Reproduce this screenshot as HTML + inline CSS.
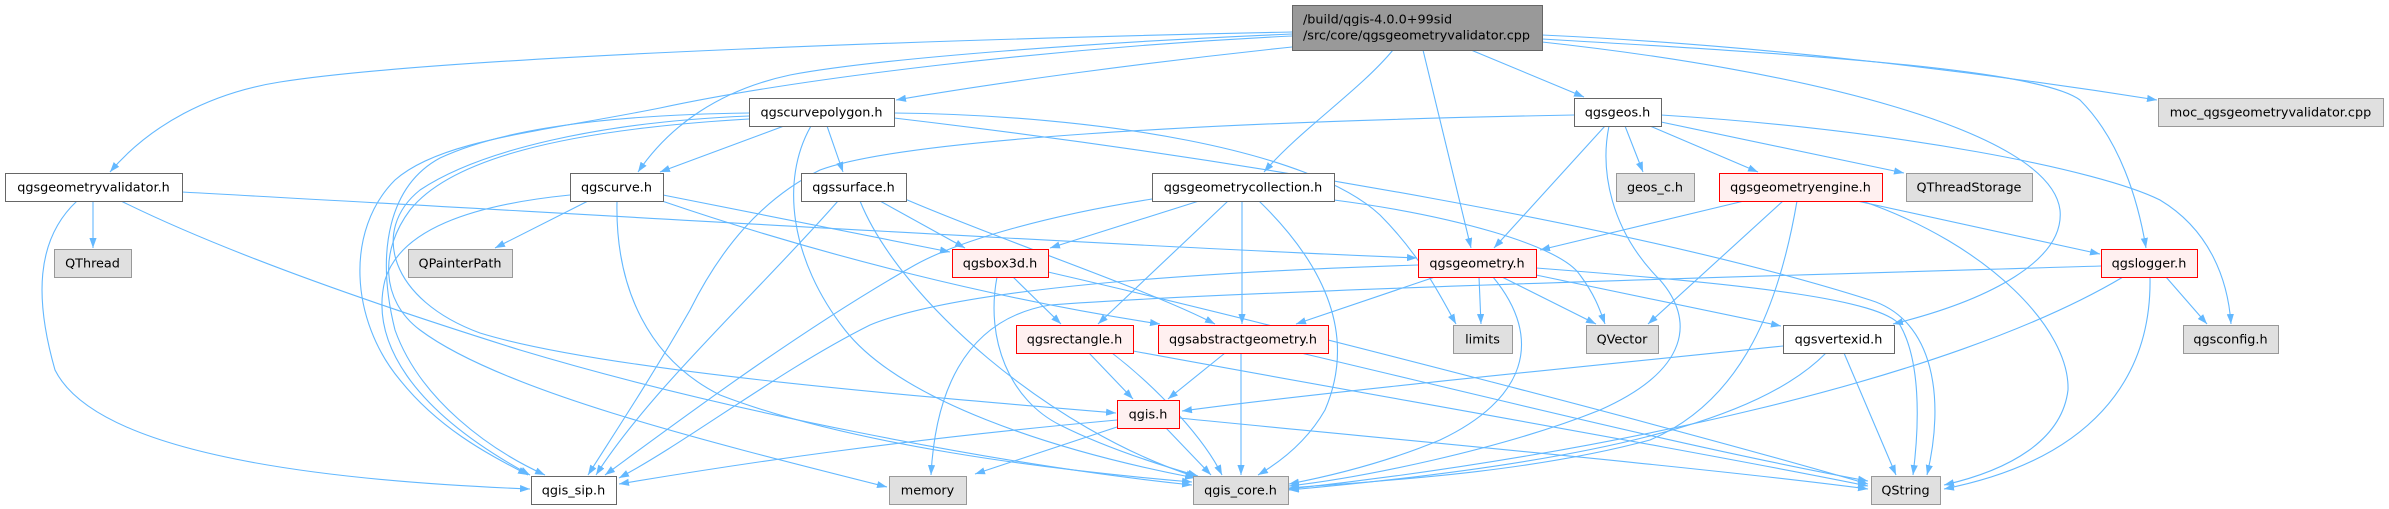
<!DOCTYPE html>
<html><head><meta charset="utf-8"><style>
html,body{margin:0;padding:0;background:#fff;}
svg{display:block;}
.e path{fill:none;stroke:#63b8ff;stroke-width:1.1;marker-end:url(#ah);}
.n text{font-family:"DejaVu Sans","Liberation Sans",sans-serif;font-size:12.8px;fill:#000;text-anchor:middle;}
.w{fill:#fff;stroke:#666;stroke-width:1;}
.g{fill:#e0e0e0;stroke:#999;stroke-width:1;}
.r{fill:#fff0f0;stroke:#f00;stroke-width:1;}
.m{fill:#999;stroke:#666;stroke-width:1;}
</style></head><body>
<svg width="2389" height="509" viewBox="0 0 2389 509" xmlns="http://www.w3.org/2000/svg">
<defs><marker id="ah" markerUnits="userSpaceOnUse" markerWidth="11" markerHeight="8" refX="10" refY="3.6" orient="auto"><path d="M0,0 L10,3.6 L0,7.2 z" fill="#63b8ff"/></marker></defs>
<g class="e">
<path d="M1292,32 C1000,38 450,55 280,82 C210,93 150,125 110,172"/>
<path d="M1292,34 C1100,42 880,58 790,75 C720,90 670,125 638,172"/>
<path d="M1292,36 C1050,48 800,78 660,108 C540,132 440,140 395,180 C345,230 350,320 400,380 C440,430 490,455 528,475"/>
<path d="M1292,47 C1150,62 1000,82 896,100"/>
<path d="M1393,50 C1360,90 1300,130 1264,172"/>
<path d="M1423,50 L1471,248"/>
<path d="M1471,50 L1584,97"/>
<path d="M1542,35 C1760,45 1980,72 2157,100"/>
<path d="M1542,39 C1820,55 2040,70 2080,100 C2120,140 2138,200 2146,248"/>
<path d="M1542,42 C1800,70 2050,130 2060,210 C2065,260 1990,300 1893,324"/>
<path d="M784,126 L660,172"/>
<path d="M827,126 L843,172"/>
<path d="M749,113 C600,115 500,130 440,158 C390,185 375,250 395,330 C420,400 490,450 545,475"/>
<path d="M749,116 C600,122 480,150 420,190 C370,230 390,300 480,333 C600,370 900,395 1116,413"/>
<path d="M749,119 C560,130 450,160 410,210 C380,250 380,300 420,330 C500,390 700,440 887,487"/>
<path d="M894,113 C1100,115 1310,150 1380,215 C1420,255 1440,295 1456,324"/>
<path d="M894,118 C1250,160 1650,230 1870,300 C1935,320 1945,400 1927,475"/>
<path d="M811,126 C780,180 790,260 845,330 C900,400 1050,450 1195,478"/>
<path d="M588,201 L495,248"/>
<path d="M570,195 C470,205 400,230 385,280 C370,340 410,410 530,475"/>
<path d="M617,201 C615,290 650,360 720,395 C850,445 1050,470 1192,482"/>
<path d="M663,195 L950,252"/>
<path d="M662,201 C820,255 1000,300 1160,324"/>
<path d="M880,201 L965,248"/>
<path d="M905,199 C1000,240 1150,290 1215,324"/>
<path d="M838,201 C760,290 650,390 596,475"/>
<path d="M860,201 C900,300 1050,430 1196,477"/>
<path d="M93,201 L93,248"/>
<path d="M77,201 C35,240 35,300 55,370 C95,450 300,480 530,489"/>
<path d="M121,201 C220,250 360,300 520,350 C720,410 1000,465 1192,485"/>
<path d="M182,192 C600,215 1100,245 1417,258"/>
<path d="M1199,201 L1050,248"/>
<path d="M1228,201 L1098,324"/>
<path d="M1242,201 L1242,324"/>
<path d="M1259,201 C1330,270 1355,340 1325,410 C1305,445 1275,465 1258,475"/>
<path d="M1334,200 C1450,215 1560,245 1580,275 C1595,295 1600,310 1605,324"/>
<path d="M1152,199 C1050,215 960,240 915,265 C800,330 680,420 605,475"/>
<path d="M1013,277 L1061,324"/>
<path d="M997,277 C985,340 1010,400 1060,425 C1110,450 1170,468 1198,476"/>
<path d="M1048,272 C1300,330 1700,435 1868,484"/>
<path d="M1435,277 L1296,324"/>
<path d="M1479,277 L1481,324"/>
<path d="M1502,277 L1596,324"/>
<path d="M1536,275 L1781,326"/>
<path d="M1536,268 C1760,285 1880,300 1900,325 C1920,360 1920,420 1913,475"/>
<path d="M1493,277 C1545,340 1525,400 1440,440 C1380,465 1320,478 1289,484"/>
<path d="M1418,265 C1200,272 960,288 870,325 C780,370 690,440 619,478"/>
<path d="M2101,266 C1800,275 1250,290 1050,305 C960,320 935,400 931,475"/>
<path d="M1574,115 C1200,122 900,140 820,170 C760,200 720,250 690,310 C650,380 610,440 588,475"/>
<path d="M1605,126 L1494,248"/>
<path d="M1625,126 L1643,172"/>
<path d="M1650,126 L1758,172"/>
<path d="M1661,122 L1904,173"/>
<path d="M1661,115 C1900,130 2100,170 2160,200 C2210,230 2228,280 2231,324"/>
<path d="M1609,126 C1600,170 1610,230 1660,280 C1695,320 1690,370 1600,410 C1500,450 1360,478 1289,486"/>
<path d="M1744,201 L1540,250"/>
<path d="M1783,201 L1648,324"/>
<path d="M1797,201 C1780,300 1745,400 1650,440 C1520,475 1360,482 1289,488"/>
<path d="M1857,201 L2100,254"/>
<path d="M1862,201 C1990,245 2070,330 2068,390 C2062,440 2010,470 1944,485"/>
<path d="M2166,277 L2207,324"/>
<path d="M2150,277 C2152,380 2090,460 1944,489"/>
<path d="M2123,277 C1950,380 1600,455 1289,489"/>
<path d="M1783,346 C1500,375 1300,395 1182,411"/>
<path d="M1826,353 C1760,420 1600,462 1289,490"/>
<path d="M1844,353 L1896,475"/>
<path d="M1225,353 L1168,399"/>
<path d="M1241,353 L1241,475"/>
<path d="M1301,353 C1500,400 1700,450 1868,481"/>
<path d="M1089,353 L1133,399"/>
<path d="M1112,353 C1160,390 1205,440 1222,475"/>
<path d="M1133,351 C1400,400 1700,452 1868,486"/>
<path d="M1117,420 C900,440 750,462 619,484"/>
<path d="M1117,427 L975,474"/>
<path d="M1166,428 L1211,475"/>
<path d="M1179,418 C1400,440 1700,467 1868,489"/>
</g>
<g class="n">
<rect class="m" x="1292.5" y="5.5" width="250" height="45"/>
<text x="1303" y="23.5" style="text-anchor:start">/build/qgis-4.0.0+99sid</text>
<text x="1303" y="39.5" style="text-anchor:start">/src/core/qgsgeometryvalidator.cpp</text>

<rect class="w" x="5.5" y="173.5" width="177" height="28"/><text x="93.5" y="191.5">qgsgeometryvalidator.h</text>
<rect class="g" x="54.5" y="249.5" width="77" height="28"/><text x="92.5" y="267.5">QThread</text>
<rect class="w" x="531.5" y="476.5" width="85" height="28"/><text x="573.5" y="494.5">qgis_sip.h</text>
<rect class="w" x="570.5" y="173.5" width="93" height="28"/><text x="616.5" y="191.5">qgscurve.h</text>
<rect class="g" x="408.5" y="249.5" width="104" height="28"/><text x="460" y="267.5">QPainterPath</text>
<rect class="w" x="749.5" y="98.5" width="145" height="28"/><text x="821.5" y="116.5">qgscurvepolygon.h</text>
<rect class="w" x="801.5" y="173.5" width="105" height="28"/><text x="853.5" y="191.5">qgssurface.h</text>
<rect class="w" x="1152.5" y="173.5" width="182" height="28"/><text x="1243" y="191.5">qgsgeometrycollection.h</text>
<rect class="r" x="952.5" y="249.5" width="96" height="28"/><text x="1000" y="267.5">qgsbox3d.h</text>
<rect class="r" x="1418.5" y="249.5" width="118" height="28"/><text x="1477" y="267.5">qgsgeometry.h</text>
<rect class="r" x="1016.5" y="325.5" width="117" height="28"/><text x="1074.5" y="343.5">qgsrectangle.h</text>
<rect class="r" x="1158.5" y="325.5" width="170" height="28"/><text x="1243" y="343.5">qgsabstractgeometry.h</text>
<rect class="g" x="1453.5" y="325.5" width="59" height="28"/><text x="1482.5" y="343.5">limits</text>
<rect class="r" x="1117.5" y="400.5" width="62" height="28"/><text x="1148" y="418.5">qgis.h</text>
<rect class="g" x="889.5" y="476.5" width="77" height="28"/><text x="927.5" y="494.5">memory</text>
<rect class="g" x="1193.5" y="476.5" width="95" height="28"/><text x="1240.5" y="494.5">qgis_core.h</text>
<rect class="w" x="1574.5" y="98.5" width="87" height="28"/><text x="1617.5" y="116.5">qgsgeos.h</text>
<rect class="g" x="2158.5" y="98.5" width="225" height="28"/><text x="2270.5" y="116.5">moc_qgsgeometryvalidator.cpp</text>
<rect class="g" x="1616.5" y="173.5" width="78" height="28"/><text x="1655" y="191.5">geos_c.h</text>
<rect class="r" x="1719.5" y="173.5" width="163" height="28"/><text x="1800.5" y="191.5">qgsgeometryengine.h</text>
<rect class="g" x="1906.5" y="173.5" width="126" height="28"/><text x="1969" y="191.5">QThreadStorage</text>
<rect class="r" x="2101.5" y="249.5" width="96" height="28"/><text x="2149" y="267.5">qgslogger.h</text>
<rect class="g" x="1586.5" y="325.5" width="72" height="28"/><text x="1622" y="343.5">QVector</text>
<rect class="w" x="1783.5" y="325.5" width="111" height="28"/><text x="1838.5" y="343.5">qgsvertexid.h</text>
<rect class="g" x="2183.5" y="325.5" width="95" height="28"/><text x="2230.5" y="343.5">qgsconfig.h</text>
<rect class="g" x="1871.5" y="476.5" width="69" height="28"/><text x="1905.5" y="494.5">QString</text>
</g>
</svg>
</body></html>
